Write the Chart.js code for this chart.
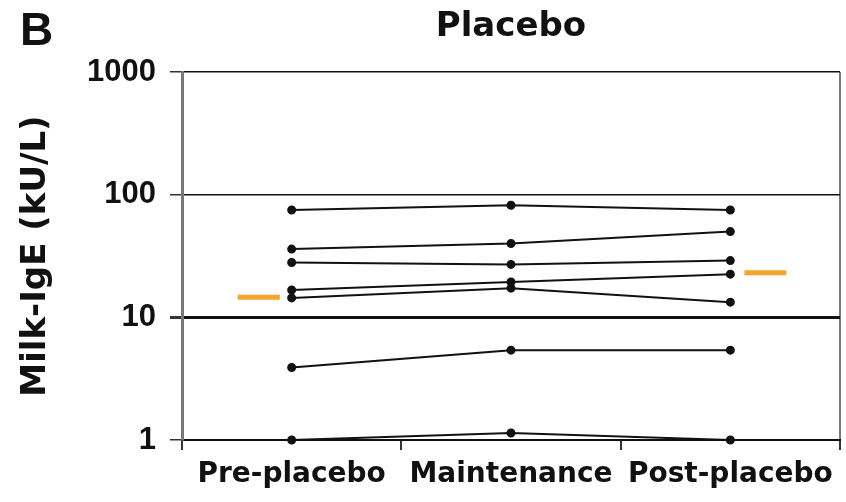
<!DOCTYPE html>
<html>
<head>
<meta charset="utf-8">
<script src="https://cdn.jsdelivr.net/npm/chart.js@4/dist/chart.umd.min.js"></script>
<style>
	body { margin: 0; background: #fff; }
	#wrap { position: relative; width: 846px; height: 502px; }
	#panel { position: absolute; left: 20px; top: 2px; font: bold 46px 'Liberation Sans', sans-serif; color: #111; }
	#title { position: absolute; left: 311px; width: 400px; top: 4px; text-align: center; font: bold 34px 'DejaVu Sans', sans-serif; color: #111; }
</style>
</head>
<body>
<div id="wrap">
	<canvas id="myChart" width="846" height="502"></canvas>
	<div id="panel">B</div>
	<div id="title">Placebo</div>
</div>
<script>
// timepoints along the bottom
let timepoints = ['Pre-placebo', 'Maintenance', 'Post-placebo'];
let yTicks = [1, 10, 100, 1000];

// one array per patient (kU/L)
let patient1 = [75, 82, 75];
let patient2 = [36, 40, 50];
let patient3 = [28, 27, 29];
let patient4 = [16.7, 19.4, 22.5];
let patient5 = [14.4, 17.3, 13.3];
let patient6 = [3.9, 5.4, 5.4];
let patient7 = [1, 1.14, 1];

// geometric means shown as orange bars beside the first and last timepoint
let meanPre = 14.6;
let meanPost = 23.1;

let patients = [patient1, patient2, patient3, patient4, patient5, patient6, patient7];

let datasets = [];
for (let p of patients) {
	datasets.push({
		data: p,
		borderColor: '#111',
		backgroundColor: '#111',
		borderWidth: 2,
		pointRadius: 3.5,
		pointHoverRadius: 3.5,
		lineTension: 0,
		fill: false,
		clip: false
	});
}
datasets.push({
	data: [{x: -0.15, y: meanPre}, {x: 2.16, y: meanPost}],
	xAxisID: 'x2',
	showLine: false,
	pointStyle: 'line',
	pointRadius: 21,
	pointHoverRadius: 21,
	borderWidth: 5,
	borderColor: '#f4a52a',
	clip: false
});

var ctx = document.getElementById('myChart').getContext('2d');
var myChart = new Chart(ctx, {
	type: 'line',
	data: {
		labels: timepoints,
		datasets: datasets
	},
	options: {
		responsive: false,
		animation: false,
		events: [],
		// the wide orange markers would otherwise push the plot in
		layout: { autoPadding: false, padding: { top: 72, right: 6, bottom: 0, left: 0 } },
		plugins: {
			legend: { display: false },
			tooltip: { enabled: false }
		},
		scales: {
			x: {
				type: 'category',
				offset: true,
				grid: {
					offset: true,
					// only the closing line on the right is drawn across the plot
					color: (c) => c.tick ? 'rgba(0,0,0,0)' : '#777',
					tickColor: '#333',
					tickLength: 10,
					lineWidth: 2
				},
				border: { color: '#111', width: 2 },
				ticks: {
					color: '#111',
					autoSkip: false,
					maxRotation: 0,
					padding: 8,
					font: { family: 'DejaVu Sans', weight: 'bold', size: 28 }
				},
				afterFit: (s) => { s.height = 62; s.paddingLeft = 0; s.paddingRight = 0; }
			},
			x2: {
				type: 'linear',
				display: false,
				min: -0.5,
				max: 2.5
			},
			y: {
				type: 'logarithmic',
				min: 1,
				max: 1000,
				afterBuildTicks: (s) => { s.ticks = yTicks.map(v => ({ value: v })); },
				grid: {
					color: '#111',
					lineWidth: (c) => c.tick && c.tick.value === 10 ? 3 : 1.5,
					tickLength: 12,
					tickColor: '#333'
				},
				border: { color: '#777', width: 3 },
				ticks: {
					color: '#111',
					padding: 14,
					font: { family: 'Liberation Sans', weight: 'bold', size: 31 },
					callback: (v) => String(v)
				},
				title: {
					display: true,
					text: 'Milk-IgE (kU/L)',
					color: '#111',
					padding: { top: 16, bottom: 0 },
					font: { family: 'DejaVu Sans', weight: 'bold', size: 34 }
				},
				afterFit: (s) => { s.width = 182; }
			}
		}
	}
});
</script>
</body>
</html>
